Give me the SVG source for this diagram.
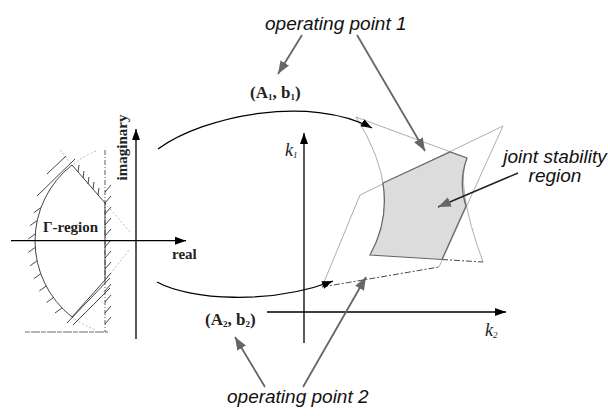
<svg xmlns="http://www.w3.org/2000/svg" width="608" height="416" viewBox="0 0 608 416">
<style>
.ax{stroke:#000;stroke-width:1.3;fill:none}
.thin{stroke:#999;stroke-width:0.8;fill:none}
.dot{stroke:#aaa;stroke-width:0.8;fill:none;stroke-dasharray:2 2}
.bnd{stroke:#444;stroke-width:1;fill:none}
.hat{stroke:#333;stroke-width:0.9;fill:none}
.dsh{stroke:#333;stroke-width:0.9;fill:none;stroke-dasharray:6 2 2 2}
.garr{stroke:#666;stroke-width:1.8;fill:none;marker-end:url(#ag)}
.barr{stroke:#000;stroke-width:1.3;fill:none;marker-end:url(#ab)}
.serif{font-family:"Liberation Serif","Times New Roman",serif;font-weight:bold;fill:#222}
.kl{font-family:"Liberation Serif","Times New Roman",serif;font-style:italic;fill:#222}
.lab{font-family:"Liberation Sans",Arial,sans-serif;font-style:italic;font-size:19px;fill:#111}
</style>
<defs>
<marker id="ag" markerUnits="userSpaceOnUse" markerWidth="14" markerHeight="11" refX="13" refY="5" orient="auto"><path d="M0,0 L13,5 L0,10 z" fill="#666"/></marker>
<marker id="ab" markerUnits="userSpaceOnUse" markerWidth="12" markerHeight="9" refX="11" refY="4" orient="auto"><path d="M0,0 L11,4 L0,8 z" fill="#000"/></marker>
</defs>

<g id="gamma-plane">
<path class="dot" d="M96,151 A96.6,96.6 0 0 0 72,165"/>
<path class="dot" d="M72,317 A96.6,96.6 0 0 0 96,330"/>
<path class="dot" d="M60,150 L72,165 M105,203 L130,232 M105,280 L130,249"/>
<path class="bnd" d="M72,165 A96.6,96.6 0 0 0 72,317"/>
<path class="bnd" d="M72,165 L105,203 L105,280 L72,317"/>
<path d="M105,150 L105,332" stroke="#333" stroke-width="0.8" stroke-dasharray="5 2 1 2" fill="none"/>
<path d="M25,332 L108,332" stroke="#444" stroke-width="0.8" stroke-dasharray="5 1 9 1" fill="none"/>
<path class="hat" d="M62,308 l-7,5 M53.5,297.5 l-7,5 M46.3,286 l-7,5 M40.8,273.7 l-7,5 M37.1,260.8 l-7,5 M35.2,247.4 l-7,5 M35.2,234 l-7,5 M37.1,220.6 l-7,5 M40.8,207.7 l-7,5"/>
<path class="hat" d="M47,174 L66,156 M37,196 L75,159"/>
<path class="hat" d="M78,172 l1,-7 M83,178 l1,-7 M88,184 l1,-7 M93,189 l1,-7 M98,195 l1,-7"/>
<path class="hat" d="M105,192 l6,-7 M105,203 l6,-7 M105,214 l6,-7 M105,225 l6,-7 M105,236 l6,-7 M105,247 l6,-7 M105,258 l6,-7 M105,269 l6,-7 M105,280 l6,-7 M105,291 l6,-7 M105,302 l6,-7 M105,313 l6,-7 M105,324 l6,-7"/>
<path class="hat" d="M110,278 L67,323 M110,288 L73,325"/>
<line class="ax" x1="11" y1="240.7" x2="186" y2="240.7" marker-end="url(#ab)"/>
<line class="ax" x1="136" y1="339" x2="136" y2="129" marker-end="url(#ab)"/>
<text class="serif" font-size="15" x="43" y="232">Γ-region</text>
<text class="serif" font-size="15" x="172" y="259">real</text>
<text class="serif" font-size="15" text-anchor="middle" transform="translate(127,147.5) rotate(-90)">imaginary</text>
</g>

<g id="k-plane">
<line class="ax" x1="267" y1="312" x2="506" y2="312" marker-end="url(#ab)"/>
<line class="ax" x1="304" y1="343" x2="304" y2="133" marker-end="url(#ab)"/>
<text class="kl" font-size="18" x="285" y="156">k<tspan font-size="9" dy="2">1</tspan></text>
<text class="kl" font-size="18" x="485" y="336">k<tspan font-size="9" dy="2">2</tspan></text>
</g>

<g id="region-op1">
<path class="thin" d="M370,255 Q405,194 356,117 L467,158 Q455,185 483,262"/>
<path class="dsh" d="M442,259.5 L483,262"/>
</g>

<g id="region-op2">
<path class="thin" d="M322,287 L360,195 L503,126 L439,267"/>
<path class="dsh" d="M322,287 L439,267"/>
</g>

<g id="joint-region">
<path d="M383,183 L450,152 L467,158 Q458,182 466,206 L442,259.5 L370,255 Q389,221 383,183 Z" fill="#dcdcdc" stroke="#666" stroke-width="1.2"/>
</g>

<g id="label-A1b1">
<text class="serif" font-size="17" x="250" y="98">(A<tspan font-size="9" dy="2">1</tspan><tspan dy="-2">, b</tspan><tspan font-size="9" dy="2">1</tspan><tspan dy="-2">)</tspan></text>
</g>
<g id="label-A2b2">
<text class="serif" font-size="17" x="205" y="325">(A<tspan font-size="9" dy="2">2</tspan><tspan dy="-2">, b</tspan><tspan font-size="9" dy="2">2</tspan><tspan dy="-2">)</tspan></text>
</g>
<g id="op1-label"><text class="lab" x="265" y="30">operating point 1</text></g>
<g id="op2-label"><text class="lab" x="227" y="403">operating point 2</text></g>
<g id="joint-label">
<text class="lab" x="555" y="163" text-anchor="middle">joint stability</text>
<text class="lab" x="555" y="182" text-anchor="middle">region</text>
</g>

<g id="connectors">
<path class="barr" d="M158,149 C205,115 310,95 372,128"/>
<path class="barr" d="M157,282 C190,300 270,305 333,281"/>
<line class="garr" x1="302" y1="35" x2="278" y2="74"/>
<line class="garr" x1="357" y1="35" x2="425" y2="151"/>
<line class="garr" x1="265" y1="387" x2="235" y2="337"/>
<line class="garr" x1="303" y1="387" x2="366" y2="277"/>
<line x1="518" y1="173" x2="438" y2="207" stroke="#222" stroke-width="1.6" marker-end="url(#ag)"/>
</g>
</svg>
